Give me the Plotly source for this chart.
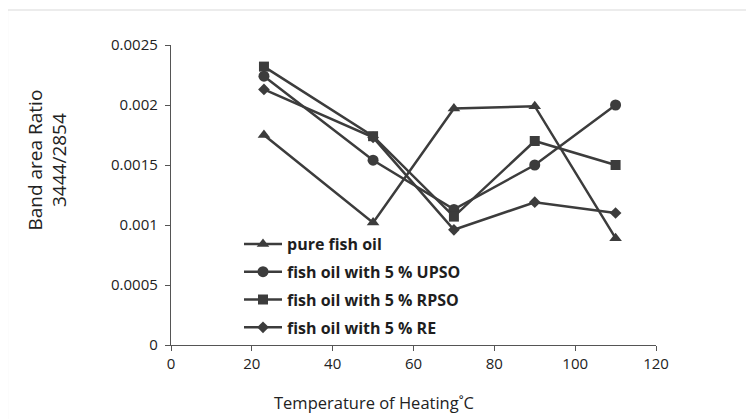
import plotly.graph_objects as go

temperature = [23, 50, 70, 90, 110]
pure_fish_oil = [0.00175, 0.00102, 0.00197, 0.00199, 0.00089]
upso = [0.00224, 0.00154, 0.00113, 0.00150, 0.00200]
rpso = [0.00232, 0.00174, 0.00107, 0.00170, 0.00150]
re = [0.00213, 0.00173, 0.00096, 0.00119, 0.00110]

series_names = ["pure fish oil", "fish oil with 5 % UPSO",
                "fish oil with 5 % RPSO", "fish oil with 5 % RE"]
series_values = [pure_fish_oil, upso, rpso, re]
symbols = ["triangle-up", "circle", "square", "diamond"]
sizes = [11, 11, 10, 9]

x_ticks = [0, 20, 40, 60, 80, 100, 120]
y_ticks = [0, 0.0005, 0.001, 0.0015, 0.002, 0.0025]
y_tick_labels = ["0", "0.0005", "0.001", "0.0015", "0.002", "0.0025"]
x_title = "Temperature of Heating˚C"
y_title = "Band area Ratio<br>3444/2854"

color = "#3c3c3c"
fig = go.Figure()
for i, (name, vals) in enumerate(zip(series_names, series_values)):
    fig.add_trace(go.Scatter(
        x=temperature, y=vals, name=name, mode="lines+markers",
        line=dict(color=color, width=2.5),
        marker=dict(symbol=symbols[i], size=sizes[i], color=color),
        legendgroup=f"g{i}",
    ))

# page has an 8px body margin; figure occupies page x 8..754, y 8..419
OFF = 8
W, H = 754 - OFF, 419 - OFF
L, R, T, B = 171 - OFF, 98, 45 - OFF, 74
pw, ph = W - L - R, H - T - B

def px(x):  # page pixel -> paper x
    return (x - OFF - L) / pw

def py(y):  # page pixel -> paper y
    return (H - B - (y - OFF)) / ph

fig.update_layout(
    width=W, height=H,
    margin=dict(l=L, r=R, t=T, b=B),
    paper_bgcolor="white", plot_bgcolor="white",
    font=dict(family="Open Sans", size=14, color="#222222"),
    showlegend=True,
    legend=dict(x=px(239), y=py(227), xanchor="left", yanchor="top",
                font=dict(family="Open Sans", size=16, color="#1e1e1e", weight="bold"),
                tracegroupgap=4, bgcolor="rgba(0,0,0,0)",
                itemwidth=38),
    xaxis=dict(range=[0, 120], tickvals=x_ticks, showgrid=False, zeroline=False,
               showline=True, linecolor="#555555", linewidth=1.3,
               ticks="outside", ticklen=5, tickcolor="#555555",
               tickfont=dict(size=15)),
    yaxis=dict(range=[0, 0.0025], tickvals=y_ticks, ticktext=y_tick_labels,
               showgrid=False, zeroline=False,
               showline=True, linecolor="#555555", linewidth=1.3,
               ticks="outside", ticklen=5, tickcolor="#555555",
               tickfont=dict(size=15), ticklabelstandoff=4),
    annotations=[
        dict(text=x_title, xref="paper", yref="paper", x=px(374), y=py(402),
             xanchor="center", yanchor="middle", showarrow=False,
             font=dict(size=16.5, color="#222222")),
        dict(text=y_title, xref="paper", yref="paper", x=px(46.5), y=py(160),
             xanchor="center", yanchor="middle", showarrow=False, textangle=-90,
             font=dict(size=19, color="#222222")),
    ],
    shapes=[
        dict(type="line", xref="paper", yref="paper", x0=px(7.5), x1=px(760),
             y0=py(10), y1=py(10), line=dict(color="#d9d9d9", width=1.2)),
        dict(type="line", xref="paper", yref="paper", x0=px(7.5), x1=px(7.5),
             y0=py(10), y1=py(430), line=dict(color="#d9d9d9", width=1.2)),
    ],
)

fig.write_html("out.html")
